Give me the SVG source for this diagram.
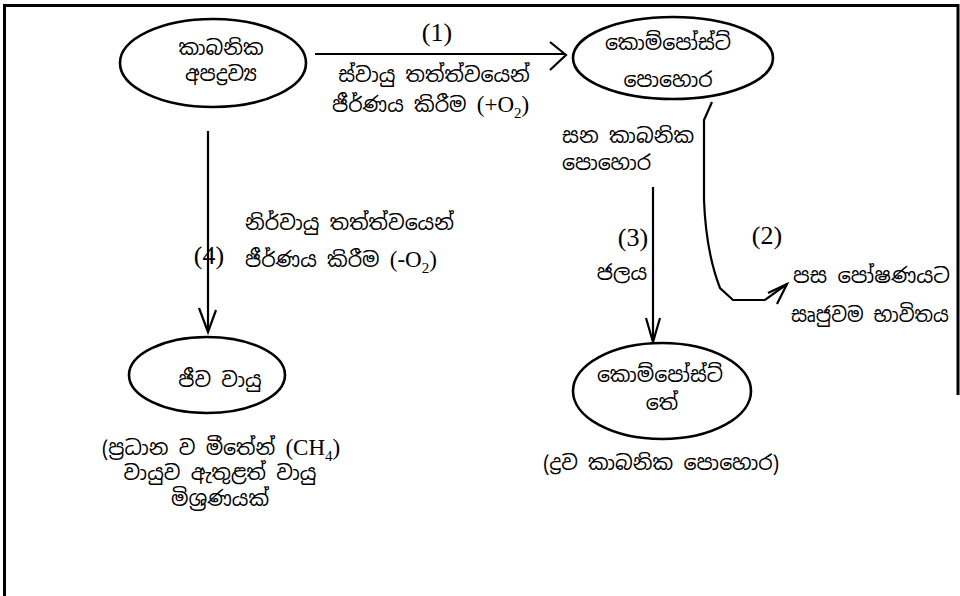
<svg xmlns="http://www.w3.org/2000/svg" width="960" height="596" viewBox="0 0 960 596">
<style>
.si{font-family:"Noto Sans Sinhala","Noto Serif Sinhala","Iskoola Pota","Noto Sans","DejaVu Sans",sans-serif;font-size:20.5px;fill:#000}
.lt{font-family:"Liberation Serif","Times New Roman",serif;font-size:26px;fill:#000}
.lm{font-family:"Liberation Serif","Times New Roman",serif;font-size:23px}
.node{fill:#fff;stroke:#000;stroke-width:2.6}
.ln{fill:none;stroke:#000;stroke-width:2.2;stroke-linejoin:miter}
.frame{fill:none;stroke:#000;stroke-width:3}
</style>
<rect width="960" height="596" fill="#fff"/>
<g id="frame">
<path class="frame" d="M4.5,596 L4.5,5.5 L958,5.5 L958,395"/>
</g>
<g id="connectors">
<path class="ln" d="M315,54 L565,54"/>
<path class="ln" d="M550,42 L566,55 L550,70"/>
<path class="ln" d="M208,131 L208,331"/>
<path class="ln" d="M199,308 L208,332 L216,310"/>
<path class="ln" d="M653,187 L653,341"/>
<path class="ln" d="M646,318 L653,342 L660,318"/>
<path class="ln" d="M712,102 L704,120 L704,200 Q706,252 720,288 L733,300 L765,300 L787,284"/>
<path class="ln" d="M768,293 L787,284 L777,304"/>
</g>
<g id="n-organic-waste">
<ellipse class="node" cx="213" cy="63" rx="93" ry="44"/>
<text class="si" x="221" y="55" text-anchor="middle">කාබනික</text>
<text class="si" x="221" y="81" text-anchor="middle">අපද්‍රව්‍ය</text>
</g>
<g id="n-compost">
<ellipse class="node" cx="673" cy="58" rx="100" ry="41"/>
<text class="si" x="668" y="50" text-anchor="middle">කොම්පෝස්ට්</text>
<text class="si" x="668" y="87" text-anchor="middle">පොහොර</text>
</g>
<g id="n-compost-tea">
<ellipse class="node" cx="662" cy="391" rx="89" ry="48"/>
<text class="si" x="660" y="382" text-anchor="middle">කොම්පෝස්ට්</text>
<text class="si" x="662" y="410" text-anchor="middle">තේ</text>
</g>
<g id="n-biogas">
<ellipse class="node" cx="207" cy="375" rx="78" ry="38"/>
<text class="si" x="220" y="387" text-anchor="middle">ජීව වායු</text>
</g>
<g id="labels">
<text class="lt" x="437" y="41" text-anchor="middle">(1)</text>
<text class="si" x="434" y="82" text-anchor="middle">ස්වායු තත්ත්වයෙන්</text>
<text class="si" x="332" y="112">ජීර්ණය කිරීම <tspan class="lm">  (+O<tspan font-size="15" dy="6">2</tspan><tspan dy="-6">)</tspan></tspan></text>
<text class="si" x="562" y="143">සන කාබනික</text>
<text class="si" x="562" y="170">පොහොර</text>
<text class="lt" x="633" y="246" text-anchor="middle">(3)</text>
<text class="si" x="622" y="280" text-anchor="middle">ජලය</text>
<text class="lt" x="767" y="244" text-anchor="middle">(2)</text>
<text class="si" x="793" y="283" textLength="157" lengthAdjust="spacingAndGlyphs">පස පෝෂණයට</text>
<text class="si" x="791" y="322" textLength="158" lengthAdjust="spacingAndGlyphs">සෘජුවම භාවිතය</text>
<text class="si" x="661" y="470" text-anchor="middle">(ද්‍රව කාබනික පොහොර)</text>
<text class="si" x="245" y="230">නිර්වායු තත්ත්වයෙන්</text>
<text class="si" x="245" y="267">ජීර්ණය කිරීම <tspan class="lm">  (-O<tspan font-size="15" dy="6">2</tspan><tspan dy="-6">)</tspan></tspan></text>
<text class="lt" x="209" y="264" text-anchor="middle">(4)</text>
<text class="si" x="221" y="455" text-anchor="middle">(ප්‍රධාන ව මීතේන් <tspan class="lm">(CH<tspan font-size="15" dy="6">4</tspan><tspan dy="-6">)</tspan></tspan></text>
<text class="si" x="220" y="480" text-anchor="middle">වායුව ඇතුළත් වායු</text>
<text class="si" x="220" y="506" text-anchor="middle">මිශ්‍රණයක්</text>
</g>
</svg>
